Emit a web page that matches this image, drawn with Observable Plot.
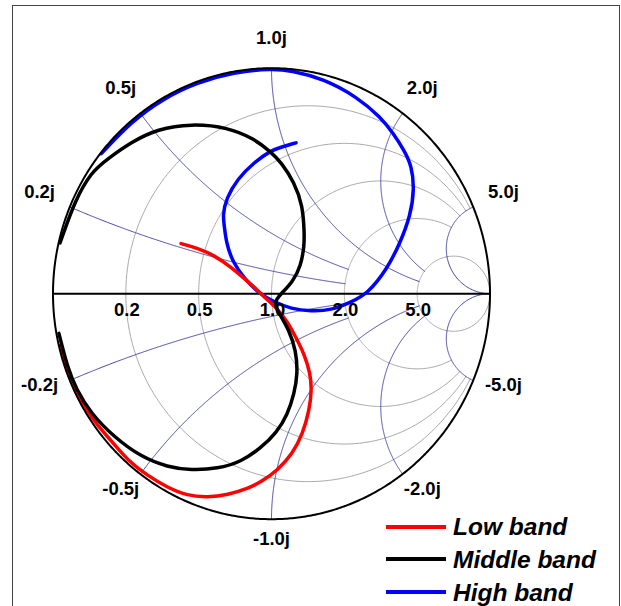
<!DOCTYPE html>
<html><head><meta charset="utf-8">
<script src="https://cdn.jsdelivr.net/npm/d3@7"></script>
<script src="https://cdn.jsdelivr.net/npm/@observablehq/plot@0.6"></script>
<style>
html,body{margin:0;padding:0;background:#fff;overflow:hidden;}
#wrap{position:relative;width:621px;height:606px;overflow:hidden;}
#chart{position:absolute;left:0;top:0;}
#frame{position:absolute;left:12px;top:5px;width:608px;height:640px;border:1.5px solid #444;box-sizing:border-box;pointer-events:none;}
#legend{position:absolute;left:386px;top:512px;width:232px;height:100px;font-family:'Liberation Sans',Arial,sans-serif;font-weight:bold;font-style:italic;font-size:24.5px;}
.row{position:absolute;left:0;width:232px;height:33px;}
.sw{position:absolute;left:0;top:12.7px;width:60px;height:4px;}
.lab{position:absolute;left:67px;top:3.4px;line-height:24px;white-space:nowrap;color:#000;}
</style></head>
<body>
<div id="wrap"><div id="chart"></div><div id="legend"></div><div id="frame"></div></div>
<script>
// ---- Smith chart grid definition ----
const rValues = [0.2, 0.5, 1.0, 2.0, 5.0];          // constant-resistance circles
const rStopAt = [5, 5, 5, 5, Infinity];              // |reactance| where each circle stops
const xValues = [0.2, 0.5, 1.0, 2.0, 5.0];          // constant-reactance arcs
const xStopAt = [2, 2, 5, 5, Infinity];              // resistance where each arc stops
const realTickLabels = ["0.2", "0.5", "1.0", "2.0", "5.0"];
const imagTickLabels = ["0.2j", "0.5j", "1.0j", "2.0j", "5.0j"];
const imagTickLabelsNeg = ["-0.2j", "-0.5j", "-1.0j", "-2.0j", "-5.0j"];

// ---- series (reflection coefficient) ----
const seriesNames = ["Low band", "Middle band", "High band"];
const seriesColors = ["#ff0000", "#000000", "#0000ff"];

const lowRe = [-0.414,-0.338,-0.262,-0.185,-0.124,-0.063,-0.033,0.028,0.074,0.104,0.150,0.178,0.184,0.173,0.143,0.097,0.028,-0.048,-0.106,-0.201,-0.292,-0.386,-0.475,-0.567,-0.658,-0.735,-0.797,-0.852,-0.905,-0.945,-0.965];
const lowIm = [0.222,0.202,0.170,0.118,0.067,0.015,-0.015,-0.067,-0.126,-0.180,-0.266,-0.355,-0.429,-0.517,-0.621,-0.709,-0.783,-0.835,-0.863,-0.892,-0.903,-0.896,-0.860,-0.807,-0.740,-0.650,-0.584,-0.505,-0.410,-0.310,-0.230];

const midRe = [-0.973,-0.935,-0.894,-0.826,-0.720,-0.597,-0.475,-0.368,-0.246,-0.140,-0.048,0.024,0.073,0.104,0.120,0.112,0.081,0.036,0.008,0.044,0.097,0.135,0.150,0.150,0.143,0.104,0.044,-0.002,-0.079,-0.200,-0.368,-0.521,-0.643,-0.750,-0.826,-0.900,-0.955,-0.968];
const midIm = [-0.176,-0.322,-0.424,-0.532,-0.636,-0.724,-0.769,-0.783,-0.776,-0.746,-0.684,-0.615,-0.537,-0.443,-0.355,-0.251,-0.163,-0.089,-0.040,0.000,0.051,0.125,0.214,0.273,0.391,0.495,0.583,0.628,0.687,0.738,0.754,0.731,0.672,0.598,0.539,0.410,0.260,0.225];

const highRe = [0.112,0.044,-0.002,-0.079,-0.155,-0.208,-0.223,-0.216,-0.208,-0.178,-0.124,-0.056,0.013,0.089,0.181,0.272,0.364,0.440,0.530,0.590,0.636,0.654,0.641,0.607,0.559,0.499,0.392,0.239,0.087,0.000,-0.173,-0.340,-0.498,-0.640,-0.779];
const highIm = [0.669,0.650,0.635,0.583,0.510,0.421,0.347,0.303,0.229,0.140,0.067,0.000,-0.037,-0.067,-0.078,-0.074,-0.037,0.000,0.111,0.228,0.347,0.465,0.569,0.635,0.709,0.783,0.872,0.953,0.990,0.998,0.982,0.937,0.864,0.764,0.621];

// ---- helpers ----
function gamma(r, x) {
  const d = (r + 1) * (r + 1) + x * x;
  return [(r * r + x * x - 1) / d, (2 * x) / d];
}
const N = 360;
const gridR = [], gridX = [], rim = [];
rValues.forEach((r, i) => {
  const lim = Math.atan(rStopAt[i]);
  for (let k = 0; k <= N; k++) {
    const u = -lim + (2 * lim * k) / N;
    const [re, im] = gamma(r, Math.tan(u));
    gridR.push({id: "r" + r, re, im});
  }
});
xValues.forEach((x, i) => {
  const lim = Math.atan(xStopAt[i]);
  [1, -1].forEach(s => {
    for (let k = 0; k <= N; k++) {
      const v = (lim * k) / N;
      const [re, im] = gamma(Math.tan(v), s * x);
      gridX.push({id: "x" + s * x, re, im});
    }
  });
});
for (let k = 0; k <= 720; k++) {
  const u = -Math.PI / 2 + (Math.PI * k) / 720;
  const [re, im] = gamma(0, Math.tan(u));
  rim.push({re, im});
}
const toPts = (res, ims) => res.map((re, i) => ({re, im: ims[i]}));
const low = toPts(lowRe, lowIm), mid = toPts(midRe, midIm), high = toPts(highRe, highIm);

const imagLabels = [];
xValues.forEach((x, i) => {
  const [a, b] = gamma(0, x);
  imagLabels.push({re: a * 1.15, im: b * 1.11, text: imagTickLabels[i]});
  imagLabels.push({re: a * 1.15, im: -b * 1.11, text: imagTickLabelsNeg[i]});
});
const realLabels = rValues.map((r, i) => ({re: (r - 1) / (r + 1), im: 0, text: realTickLabels[i]}));

const font = "'Liberation Sans', Arial, sans-serif";
const chart = Plot.plot({
  width: 621,
  height: 606,
  marginLeft: 52.5,
  marginRight: 131.5,
  marginTop: 67.7,
  marginBottom: 87.3,
  x: {domain: [-1, 1], axis: null},
  y: {domain: [-1, 1], axis: null},
  style: {fontFamily: font, background: "white", overflow: "visible"},
  marks: [
    Plot.line(gridR, {x: "re", y: "im", z: "id", stroke: "#a9a9a9", strokeWidth: 1}),
    Plot.line(gridX, {x: "re", y: "im", z: "id", stroke: "#34349c", strokeWidth: 0.9}),
    Plot.ruleY([0], {x1: -1, x2: 1, stroke: "black", strokeWidth: 2}),
    Plot.line(high, {x: "re", y: "im", stroke: seriesColors[2], strokeWidth: 3.5, curve: "basis"}),
    Plot.line(low, {x: "re", y: "im", stroke: seriesColors[0], strokeWidth: 3.5, curve: "basis"}),
    Plot.line(mid, {x: "re", y: "im", stroke: seriesColors[1], strokeWidth: 3.5, curve: "basis"}),
    Plot.line(rim, {x: "re", y: "im", stroke: "black", strokeWidth: 2}),
    Plot.text(imagLabels, {x: "re", y: "im", text: "text", dy: -5, fontSize: 18.5, fontWeight: "bold", fill: "black"}),
    Plot.text(realLabels, {x: "re", y: "im", text: "text", dy: 16, dx: 1, fontSize: 18.5, fontWeight: "bold", fill: "black"})
  ]
});
document.getElementById("chart").appendChild(chart);

// legend
const legend = document.getElementById("legend");
seriesNames.forEach((name, i) => {
  const row = document.createElement("div");
  row.className = "row";
  row.style.top = (i * 32.8) + "px";
  const sw = document.createElement("div");
  sw.className = "sw";
  sw.style.background = seriesColors[i];
  const lab = document.createElement("div");
  lab.className = "lab";
  lab.textContent = name;
  row.appendChild(sw); row.appendChild(lab);
  legend.appendChild(row);
});
</script>
</body></html>
